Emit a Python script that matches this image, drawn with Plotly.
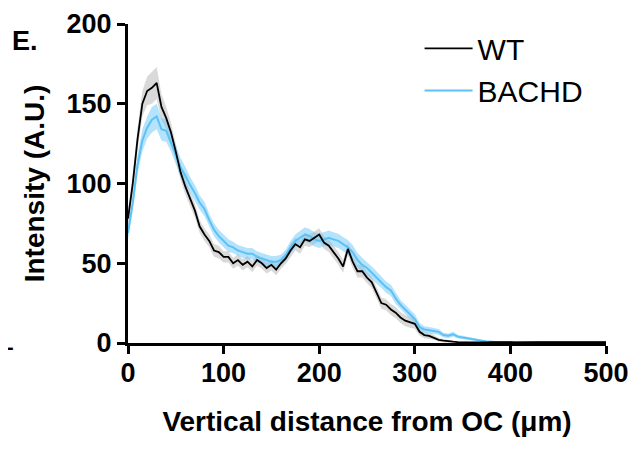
import numpy as np
import plotly.graph_objects as go

# vertical distance from OC (um), 5 um steps
distance = list(range(0, 505, 5))

wt_mean = [
    78, 100, 128, 150, 158, 160, 163, 148, 141, 132,
    120, 107, 98, 90, 83, 73, 68, 64, 58, 57,
    54, 54, 50, 52, 49, 51, 48, 52, 50, 47,
    49, 46, 50, 53, 58, 62, 60, 65, 64, 66,
    68, 63, 61, 57, 53, 48, 59, 51, 45, 45,
    41, 38, 31, 25, 24, 21, 19, 16, 14, 13,
    12, 7, 5, 4.5, 3.5, 2, 1.5, 1, 0.8, 0.6,
    0.5, 0.6, 0.4, 0.5, 0.5, 0.4, 0.5, 0.6, 0.4, 0.5,
    0.5, 0.4, 0.5, 0.5, 0.6, 0.4, 0.5, 0.5, 0.4, 0.5,
    0.5, 0.6, 0.5, 0.4, 0.5, 0.5, 0.6, 0.5, 0.4, 0.5,
    0.5,
]
wt_sem = [
    5, 6, 7, 8, 9, 10, 10, 8, 7, 6,
    5.5, 5, 5, 4.5, 4.5, 4, 4, 4, 4, 4,
    3.5, 3.5, 3.5, 3.5, 3.5, 3.5, 3.5, 3.5, 3.5, 3.5,
    3.5, 3.5, 3.5, 3.5, 4, 4, 4, 4, 4, 4,
    4, 4, 4, 4, 4, 4, 4, 4, 4, 4,
    3.5, 3.5, 3.5, 3.5, 3.5, 3.5, 3.5, 3.5, 3.5, 3.5,
    3, 2.5, 2, 2, 1.5, 1.2, 1, 0.8, 0.6, 0.5,
    0.4, 0.4, 0.4, 0.4, 0.4, 0.4, 0.4, 0.4, 0.4, 0.4,
    0.4, 0.4, 0.4, 0.4, 0.4, 0.4, 0.4, 0.4, 0.4, 0.4,
    0.4, 0.4, 0.4, 0.4, 0.4, 0.4, 0.4, 0.4, 0.4, 0.4,
    0.4,
]
bachd_mean = [
    69, 88, 112, 127, 135, 140, 142, 134, 133, 126,
    118, 110, 105, 99, 94, 88, 84, 77, 71, 67,
    64, 61, 60, 58, 57, 56, 56, 54, 53, 52,
    51, 51, 52, 55, 60, 64, 66, 68, 67, 65,
    64, 65, 66, 65, 64, 62, 60, 57, 52, 49,
    47, 44, 41, 38, 35, 33, 28, 24, 21, 18,
    15, 10, 8.5, 8, 7.5, 7, 5, 4.5, 5.5, 4,
    3.5, 3, 2.3, 2, 1.5, 1, 0.8, 0.7, 0.7, 0.6,
    0.7, 0.6, 0.7, 0.8, 0.6, 0.7, 0.6, 0.7, 0.6, 0.7,
    0.6, 0.7, 0.6, 0.7, 0.6, 0.7, 0.7, 0.6, 0.7, 0.6,
    0.7,
]
bachd_sem = [
    4, 5, 6, 7, 7, 8, 8, 7, 7, 6,
    6, 6, 5.5, 5, 5, 4.5, 4.5, 4, 4, 4,
    4, 4, 3.5, 3.5, 3.5, 3.5, 3.5, 3.5, 3.5, 3.5,
    3.5, 3.5, 3.5, 3.5, 4, 4, 4.5, 4.5, 4.5, 4.5,
    4.5, 4.5, 4.5, 4.5, 4.5, 4.5, 4.5, 4.5, 4.5, 4.5,
    4, 4, 4, 3.5, 3.5, 3.5, 3.5, 3, 3, 3,
    3, 2.5, 2, 2, 2, 1.8, 1.5, 1.5, 1.5, 1.2,
    1, 1, 0.8, 0.8, 0.6, 0.5, 0.5, 0.5, 0.5, 0.5,
    0.4, 0.4, 0.4, 0.4, 0.4, 0.4, 0.4, 0.4, 0.4, 0.4,
    0.4, 0.4, 0.4, 0.4, 0.4, 0.4, 0.4, 0.4, 0.4, 0.4,
    0.4,
]

FONT = "Liberation Sans, Arial, sans-serif"


def band(x, mean, sem, color):
    m = np.array(mean)
    s = np.array(sem)
    return go.Scatter(
        x=list(x) + list(x)[::-1],
        y=list(m + s) + list((m - s)[::-1]),
        fill="toself", fillcolor=color, line=dict(width=0),
        hoverinfo="skip", showlegend=False,
    )


fig = go.Figure()
fig.add_trace(band(distance, wt_mean, wt_sem, "rgba(170,170,170,0.45)"))
fig.add_trace(band(distance, bachd_mean, bachd_sem, "rgba(110,200,250,0.5)"))
fig.add_trace(go.Scatter(x=distance, y=bachd_mean, name="BACHD", mode="lines",
                         line=dict(color="#5cc2f5", width=2), legendrank=2))
fig.add_trace(go.Scatter(x=distance, y=wt_mean, name="WT", mode="lines",
                         line=dict(color="black", width=1.8), legendrank=1))

axis_common = dict(
    showline=True, linewidth=3, linecolor="black", ticks="outside",
    ticklen=8, tickwidth=3, tickcolor="black", showgrid=False, zeroline=False,
    automargin=False,
    tickfont=dict(family=FONT, size=27, color="black", weight="bold"),
)
fig.update_xaxes(range=[0, 500], tickvals=[0, 100, 200, 300, 400, 500],
                 ticklabelstandoff=-4,
                 title=dict(text="Vertical distance from OC (μm)", standoff=24,
                            font=dict(family=FONT, size=28, color="black", weight="bold")),
                 **axis_common)
fig.update_yaxes(range=[0, 200], tickvals=[0, 50, 100, 150, 200],
                 title=dict(text="Intensity (A.U.)", standoff=14,
                            font=dict(family=FONT, size=28, color="black", weight="bold")),
                 **axis_common)

# panel letter and the stray dash at the left edge
fig.add_annotation(text="E.", x=-0.247, y=0.946, xref="paper", yref="paper", showarrow=False,
                   font=dict(family=FONT, size=27, color="black", weight="bold"),
                   xanchor="left", yanchor="middle")
fig.add_annotation(text="-", x=-0.258, y=-0.012, xref="paper", yref="paper", showarrow=False,
                   font=dict(family=FONT, size=20, color="black", weight="bold"),
                   xanchor="left", yanchor="middle")

# the page body adds an 8px margin, so the figure is sized to fit inside the window
fig.update_layout(
    width=631, height=447,
    margin=dict(l=120, r=33, t=16, b=112),
    plot_bgcolor="white", paper_bgcolor="white",
    legend=dict(x=0.61, y=1.005, xanchor="left", yanchor="top", itemwidth=48,
                font=dict(family=FONT, size=30, color="black"),
                bgcolor="rgba(0,0,0,0)", tracegroupgap=13),
)
fig.write_html("out.html")
